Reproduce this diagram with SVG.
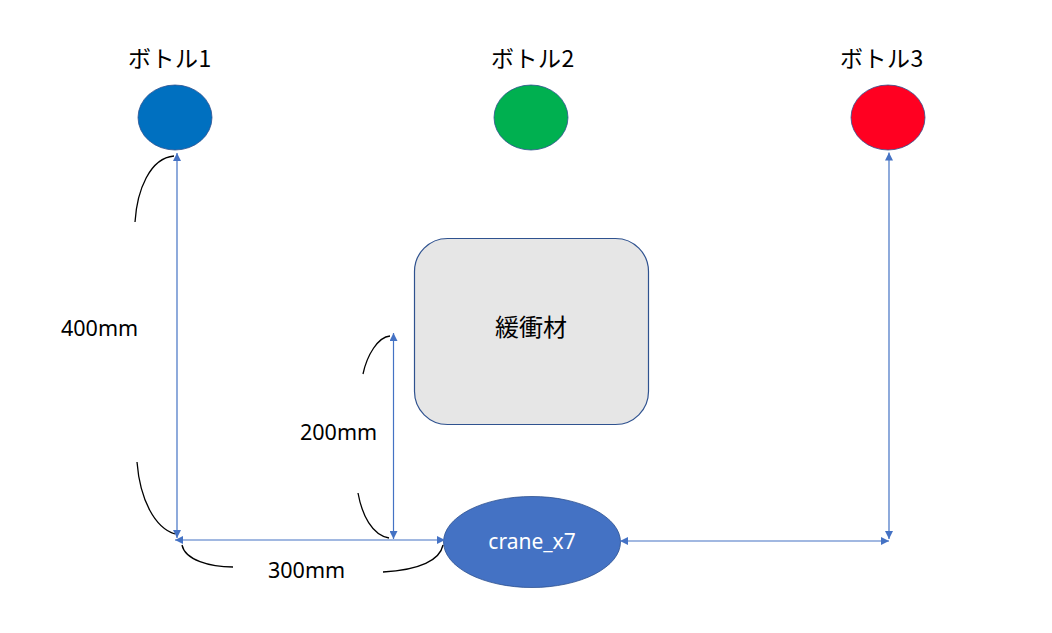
<svg xmlns="http://www.w3.org/2000/svg" width="1052" height="633" viewBox="0 0 1052 633">
<style>
.lbl{font-family:"Noto Sans CJK JP","Noto Sans",sans-serif;font-size:23px;letter-spacing:0.5px;fill:#000;text-anchor:middle}
.dim{font-family:"Noto Sans","Noto Sans CJK JP",sans-serif;font-size:21.5px;fill:#000}
.conn{stroke:#4472c4;stroke-width:1.2;fill:none;marker-start:url(#ah);marker-end:url(#ah)}
.brace{stroke:#000;stroke-width:1.3;fill:none}
.bottle{stroke:#2f528f;stroke-width:0.8}
</style>
<defs>
<marker id="ah" viewBox="0 0 10 10" refX="10" refY="5" markerWidth="8" markerHeight="8" markerUnits="userSpaceOnUse" orient="auto-start-reverse">
<path d="M0,0 L10,5 L0,10 z" fill="#4472c4"/>
</marker>
</defs>
<rect width="1052" height="633" fill="#fff"/>
<g id="bottle1">
<ellipse class="bottle" cx="175" cy="117.5" rx="37" ry="32.5" fill="#0070c0"/>
<text class="lbl" x="170" y="67">ボトル1</text>
</g>
<g id="bottle2">
<ellipse class="bottle" cx="531" cy="117.5" rx="37" ry="32.5" fill="#00b050"/>
<text class="lbl" x="533" y="67">ボトル2</text>
</g>
<g id="bottle3">
<ellipse class="bottle" cx="888" cy="117.5" rx="37" ry="32.5" fill="#ff0021"/>
<text class="lbl" x="882" y="67">ボトル3</text>
</g>
<g id="cushion">
<rect x="414.5" y="238.5" width="234" height="186" rx="33" ry="33" fill="#e6e6e6" stroke="#2f528f" stroke-width="1.2"/>
<text x="531" y="336" font-family="'Noto Sans CJK JP',sans-serif" font-size="24" text-anchor="middle" fill="#000">緩衝材</text>
</g>
<g id="crane_x7">
<ellipse cx="532" cy="542" rx="88.5" ry="45.5" fill="#4472c4" stroke="#2f528f" stroke-width="0.8"/>
<text x="532" y="549" font-family="'Noto Sans',sans-serif" font-size="21" text-anchor="middle" fill="#fff">crane_x7</text>
</g>
<g id="connectors">
<line class="conn" x1="177" y1="153" x2="177" y2="538"/>
<line class="conn" x1="175" y1="540" x2="445" y2="540"/>
<line class="conn" x1="393.5" y1="333" x2="393.5" y2="539"/>
<line class="conn" x1="620" y1="541" x2="889" y2="541"/>
<line class="conn" x1="889" y1="152.5" x2="889" y2="539"/>
</g>
<g id="dimensions">
<path class="brace" d="M135,222 C137,190 150,158 174,156"/>
<path class="brace" d="M137,462 C140,500 155,528 175,534"/>
<path class="brace" d="M182,545 C185,560 210,567 233,567"/>
<path class="brace" d="M383,572 C420,570 440,560 443,545"/>
<path class="brace" d="M358,493 C362,515 372,535 389,538"/>
<path class="brace" d="M363,374 C367,355 378,337 390,336"/>
<text class="dim" x="61" y="336">400mm</text>
<text class="dim" x="300" y="440">200mm</text>
<text class="dim" x="268" y="578">300mm</text>
</g>
</svg>
